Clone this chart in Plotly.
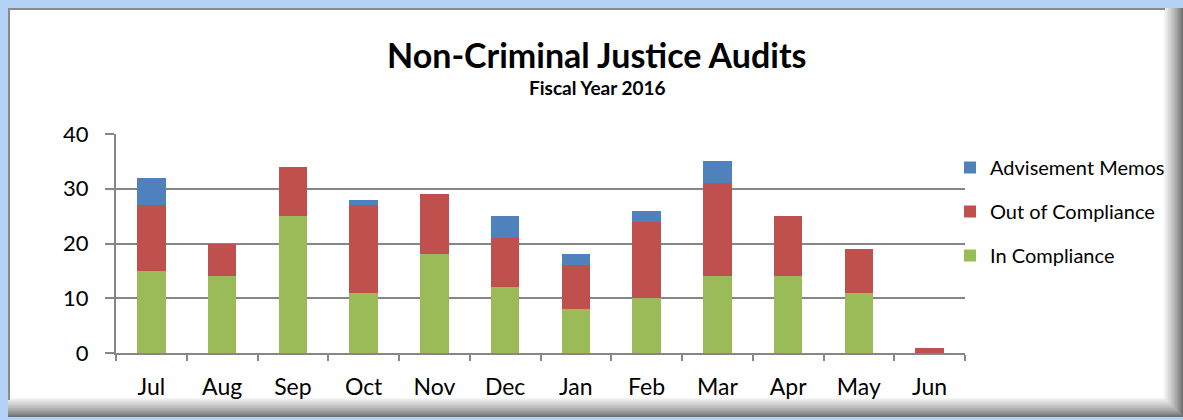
import plotly.graph_objects as go

months = ["Jul", "Aug", "Sep", "Oct", "Nov", "Dec", "Jan", "Feb", "Mar", "Apr", "May", "Jun"]
in_compliance = [15, 14, 25, 11, 18, 12, 8, 10, 14, 14, 11, 0]
out_of_compliance = [12, 6, 9, 16, 11, 9, 8, 14, 17, 11, 8, 1]
advisement_memos = [5, 0, 0, 1, 0, 4, 2, 2, 4, 0, 0, 0]

W, H = 1183, 420
ML, MR, MT, MB = 116, 218, 134, 67
PW, PH = W - ML - MR, H - MT - MB

def px(x):
    return (x - ML) / PW

def py(y):
    return 1 - (y - MT) / PH

FONT = "Lato"

fig = go.Figure()
fig.add_trace(go.Bar(x=months, y=in_compliance, name="In Compliance",
                     marker=dict(color="#9BBB59", line=dict(width=0)),
                     legendgroup="a", legendrank=3))
fig.add_trace(go.Bar(x=months, y=out_of_compliance, name="Out of Compliance",
                     marker=dict(color="#C0504D", line=dict(width=0)),
                     legendgroup="b", legendrank=2))
fig.add_trace(go.Bar(x=months, y=advisement_memos, name="Advisement Memos",
                     marker=dict(color="#4F81BD", line=dict(width=0)),
                     legendgroup="c", legendrank=1))

shapes = []
# frame with shadow gradient on right/bottom
steps = 14
for i in range(steps):
    t = (i / (steps - 1)) ** 0.8
    g = int(0x70 + (0xff - 0x70) * t)
    col = f"rgb({g},{g},{g})"
    shapes.append(dict(type="rect", xref="paper", yref="paper", layer="below",
                       x0=px(8), x1=px(1183 - i * 1.5), y0=py(8), y1=py(417 - i * 1.5),
                       fillcolor=col, line=dict(width=0)))
shapes.append(dict(type="line", xref="paper", yref="paper", layer="below",
                   x0=px(9), x1=px(9), y0=py(8), y1=py(400),
                   line=dict(color="#8a8a8a", width=2)))
shapes.append(dict(type="line", xref="paper", yref="paper", layer="below",
                   x0=px(8), x1=px(1165), y0=py(9), y1=py(9),
                   line=dict(color="#8a8a8a", width=2)))

fig.update_layout(
    width=W, height=H,
    margin=dict(l=ML, r=MR, t=MT, b=MB),
    paper_bgcolor="#b3d2f5",
    plot_bgcolor="rgba(0,0,0,0)",
    barmode="stack",
    bargap=0.6,
    shapes=shapes,
    font=dict(family=FONT, color="#000000"),
    showlegend=True,
    legend=dict(x=px(950), y=py(148), xanchor="left", yanchor="top",
                traceorder="grouped", tracegroupgap=15,
                font=dict(size=20, family=FONT), bgcolor="rgba(0,0,0,0)"),
    annotations=[
        dict(text="<b>Non-Criminal Justice Audits</b>", xref="paper", yref="paper",
             x=px(597), y=py(55), xanchor="center", yanchor="middle",
             showarrow=False, font=dict(size=34, family=FONT)),
        dict(text="<b>Fiscal Year 2016</b>", xref="paper", yref="paper",
             x=px(597), y=py(88), xanchor="center", yanchor="middle",
             showarrow=False, font=dict(size=19, family=FONT)),
    ],
)
fig.update_xaxes(showline=True, linecolor="#868686", linewidth=2,
                 ticks="outside", tickson="boundaries", ticklen=6, tickcolor="#868686", tickwidth=2,
                 ticklabelstandoff=12,
                 tickfont=dict(size=23, family=FONT), showgrid=False)
fig.update_yaxes(range=[0, 40], dtick=10, showline=True, linecolor="#868686", linewidth=2,
                 ticks="outside", ticklen=9, tickcolor="#868686", tickwidth=2,
                 ticklabelstandoff=12,
                 gridcolor="#868686", gridwidth=2, zeroline=False,
                 tickfont=dict(size=22, family=FONT))

fig.write_html("out.html")
